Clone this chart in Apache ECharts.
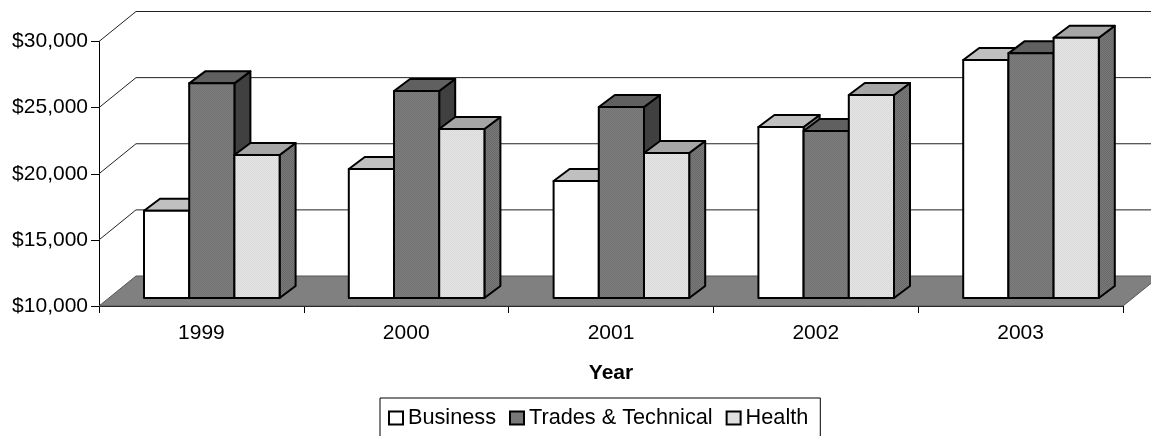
<!doctype html>
<html>
<head>
<meta charset="utf-8">
<title>Year chart</title>
<style>
html, body { margin: 0; padding: 0; background: #fff; }
#chart { width: 1151px; height: 436px; }
</style>
<script src="https://cdn.jsdelivr.net/npm/echarts@6/dist/echarts.min.js"></script>
</head>
<body>
<div id="chart"></div>
<script>
var years = ['1999', '2000', '2001', '2002', '2003'];
var business = [16600, 19750, 18850, 22930, 28000];
var trades = [26230, 25650, 24440, 22630, 28500];
var health = [20810, 22780, 20960, 25350, 29680];
var yTicks = [10000, 15000, 20000, 25000, 30000];

var font = '"Liberation Sans", Arial, sans-serif';
var wallDepth = [37, -30];
var barShift = [10.4, -8];
var barDepth = [16, -12];

function dither(a, b) {
	var c = document.createElement('canvas');
	c.width = 2;
	c.height = 2;
	var ctx = c.getContext('2d');
	ctx.fillStyle = a;
	ctx.fillRect(0, 0, 2, 2);
	ctx.fillStyle = b;
	ctx.fillRect(0, 0, 1, 1);
	ctx.fillRect(1, 1, 1, 1);
	return { image: c, repeat: 'repeat' };
}

var tradesFill = dither('#7e7e7e', '#727272');
var healthFill = dither('#e6e6e6', '#d8d8d8');
var healthSide = dither('#7a7a7a', '#686868');

function barSeries(name, values, slot, front, top, side) {
	return {
		name: name,
		type: 'custom',
		clip: false,
		z: 3,
		encode: { x: 0, y: 1 },
		itemStyle: { color: front, borderColor: '#000', borderWidth: 1.5 },
		data: values.map(function(v, i) { return [i, v]; }),
		renderItem: function(params, api) {
			var i = api.value(0);
			var band = api.size([1, 0])[0];
			var w = band * 0.2207;
			var p = api.coord([i, api.value(1)]);
			var b = api.coord([i, yTicks[0]]);
			var x0 = p[0] + barShift[0] + (slot - 1.5) * w;
			var x1 = x0 + w;
			var y0 = p[1] + barShift[1];
			var y1 = b[1] + barShift[1];
			var dx = barDepth[0], dy = barDepth[1];
			var line = { stroke: '#000', lineWidth: 2, lineJoin: 'round' };
			return {
				type: 'group',
				children: [{
					type: 'polygon',
					shape: { points: [[x1, y0], [x1 + dx, y0 + dy], [x1 + dx, y1 + dy], [x1, y1]] },
					style: Object.assign({ fill: side }, line)
				}, {
					type: 'polygon',
					shape: { points: [[x0, y0], [x0 + dx, y0 + dy], [x1 + dx, y0 + dy], [x1, y0]] },
					style: Object.assign({ fill: top }, line)
				}, {
					type: 'rect',
					shape: { x: x0, y: y0, width: w, height: y1 - y0 },
					style: Object.assign({ fill: front }, line)
				}]
			};
		}
	};
}

var chart = echarts.init(document.getElementById('chart'), null, { renderer: 'canvas' });
chart.setOption({
	animation: false,
	backgroundColor: '#fff',
	textStyle: { fontFamily: font, color: '#000' },
	grid: { left: 99, right: 28, top: 41.5, height: 264.5 },
	legend: {
		left: 380,
		top: 398,
		padding: [9, 12, 30, 8],
		itemWidth: 14,
		itemHeight: 13,
		itemGap: 13,
		icon: 'rect',
		borderColor: '#000',
		borderWidth: 1,
		backgroundColor: '#fff',
		textStyle: { fontFamily: font, fontSize: 21.7, color: '#000', padding: [0, 0, 0, 0] },
		data: ['Business', 'Trades & Technical', 'Health']
	},
	xAxis: {
		type: 'category',
		data: years,
		name: 'Year',
		nameLocation: 'middle',
		nameGap: 57,
		nameTextStyle: { fontFamily: font, fontSize: 21, fontWeight: 'bold', color: '#000' },
		axisLine: { lineStyle: { color: '#000', width: 1 } },
		axisTick: { show: true, length: 7, lineStyle: { color: '#000' } },
		axisLabel: { fontFamily: font, fontSize: 21, color: '#000', margin: 17 },
		splitLine: { show: false }
	},
	yAxis: {
		type: 'value',
		min: 10000,
		max: 30000,
		interval: 5000,
		axisLine: { show: true, lineStyle: { color: '#000', width: 1 } },
		axisTick: { show: true, length: 8, lineStyle: { color: '#000' } },
		axisLabel: {
			fontFamily: font,
			fontSize: 21,
			color: '#000',
			margin: 11,
			formatter: function(v) { return '$' + v.toLocaleString('en-US'); }
		},
		splitLine: { show: false }
	},
	series: [{
		// floor and back wall gridlines
		type: 'custom',
		clip: false,
		silent: true,
		z: 1,
		encode: { x: 0, y: 1 },
		data: yTicks.map(function(v) { return [0, v]; }),
		renderItem: function(params, api) {
			var cs = params.coordSys;
			var y = api.coord([0, api.value(1)])[1];
			var dx = wallDepth[0], dy = wallDepth[1];
			var left = cs.x, right = cs.x + cs.width;
			var children = [];
			if (api.value(1) === yTicks[0]) {
				children.push({
					type: 'polygon',
					shape: { points: [[left, y], [left + dx, y + dy], [right + dx, y + dy], [right, y]] },
					style: { fill: '#808080', stroke: '#555', lineWidth: 1 }
				});
			} else {
				children.push({
					type: 'polyline',
					shape: { points: [[left, y], [left + dx, y + dy], [right + dx, y + dy]] },
					style: { fill: null, stroke: '#222', lineWidth: 1 }
				});
			}
			return { type: 'group', children: children };
		}
	},
	barSeries('Business', business, 0, '#fff', '#c0c0c0', '#808080'),
	barSeries('Trades & Technical', trades, 1, tradesFill, '#606060', '#404040'),
	barSeries('Health', health, 2, healthFill, '#a6a6a6', healthSide)]
});
</script>
</body>
</html>
